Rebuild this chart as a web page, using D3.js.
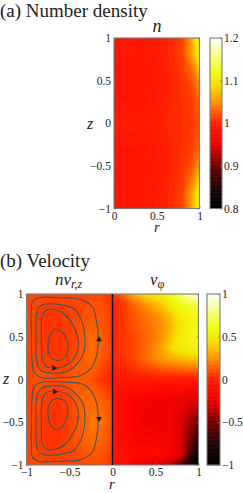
<!DOCTYPE html>
<html>
<head>
<meta charset="utf-8">
<script src="https://cdn.jsdelivr.net/npm/d3@7"></script>
<style>
  html, body { margin: 0; padding: 0; background: #fff; }
  svg { display: block; }
  text { font-family: "Liberation Serif", serif; fill: #222; }
</style>
</head>
<body>
<svg id="chart" width="243" height="493"></svg>
<script>
// number density, rows z = 1 .. -1 (step 0.2), columns r = 0 .. 1 (step 0.1)
const densityGrid = [
  [0.990, 0.990, 0.990, 0.990, 0.993, 0.997, 1.002, 1.008, 1.020, 1.060, 1.120],
  [0.990, 0.990, 0.990, 0.990, 0.993, 0.997, 1.002, 1.008, 1.018, 1.055, 1.115],
  [0.985, 0.985, 0.985, 0.985, 0.988, 0.995, 1.000, 1.006, 1.014, 1.032, 1.075],
  [0.985, 0.985, 0.985, 0.986, 0.990, 0.996, 1.000, 1.005, 1.010, 1.018, 1.045],
  [0.992, 0.990, 0.990, 0.990, 0.993, 0.998, 1.002, 1.005, 1.009, 1.014, 1.028],
  [1.000, 0.998, 0.994, 0.993, 0.995, 1.000, 1.005, 1.006, 1.008, 1.012, 1.022],
  [0.992, 0.990, 0.990, 0.990, 0.993, 0.998, 1.002, 1.005, 1.009, 1.014, 1.028],
  [0.985, 0.985, 0.985, 0.986, 0.990, 0.996, 1.000, 1.005, 1.010, 1.018, 1.045],
  [0.985, 0.985, 0.985, 0.985, 0.988, 0.995, 1.000, 1.006, 1.014, 1.032, 1.075],
  [0.990, 0.990, 0.990, 0.990, 0.993, 0.997, 1.002, 1.008, 1.018, 1.055, 1.115],
  [0.990, 0.990, 0.990, 0.990, 0.993, 0.997, 1.002, 1.008, 1.020, 1.060, 1.120],
];

// v_phi, rows z = 1 .. -1 (step 0.125), columns r = 0 .. 1 (step 0.1)
const vPhiGrid = [
  [0.05, 0.15, 0.28, 0.40, 0.46, 0.50, 0.55, 0.65, 0.80, 0.90, 0.95],
  [0.03, 0.05, 0.12, 0.20, 0.28, 0.35, 0.42, 0.55, 0.62, 0.66, 0.75],
  [0.03, 0.05, 0.10, 0.15, 0.20, 0.25, 0.32, 0.42, 0.52, 0.58, 0.62],
  [0.03, 0.05, 0.10, 0.14, 0.18, 0.22, 0.28, 0.38, 0.50, 0.56, 0.58],
  [0.03, 0.05, 0.08, 0.12, 0.17, 0.22, 0.30, 0.42, 0.52, 0.57, 0.60],
  [0.03, 0.05, 0.08, 0.12, 0.18, 0.25, 0.35, 0.47, 0.52, 0.55, 0.57],
  [0.02, 0.04, 0.08, 0.12, 0.18, 0.25, 0.30, 0.35, 0.38, 0.40, 0.42],
  [0.00, 0.02, 0.04, 0.07, 0.10, 0.12, 0.14, 0.15, 0.17, 0.18, 0.20],
  [-0.03, -0.03, -0.03, -0.03, -0.02, -0.02, -0.02, -0.02, -0.02, -0.02, -0.02],
  [-0.05, -0.07, -0.10, -0.10, -0.10, -0.12, -0.12, -0.13, -0.14, -0.15, -0.16],
  [-0.06, -0.10, -0.14, -0.17, -0.18, -0.19, -0.19, -0.20, -0.22, -0.25, -0.28],
  [-0.05, -0.10, -0.15, -0.18, -0.20, -0.20, -0.20, -0.21, -0.25, -0.33, -0.40],
  [-0.05, -0.10, -0.15, -0.18, -0.20, -0.20, -0.20, -0.21, -0.27, -0.40, -0.48],
  [-0.05, -0.10, -0.14, -0.16, -0.17, -0.18, -0.19, -0.20, -0.28, -0.45, -0.58],
  [-0.05, -0.10, -0.12, -0.15, -0.15, -0.15, -0.16, -0.19, -0.28, -0.50, -0.75],
  [-0.03, -0.07, -0.10, -0.12, -0.12, -0.13, -0.15, -0.18, -0.28, -0.60, -0.90],
  [-0.10, -0.12, -0.15, -0.18, -0.22, -0.25, -0.30, -0.38, -0.55, -0.80, -0.98],
];

// n v_rz magnitude, rows z = 1 .. -1 (step 0.25), columns r = -1 .. 0 (step 0.125)
const flowGrid = [
  [0.10, 0.10, 0.10, 0.10, 0.10, 0.10, 0.10, 0.10, 0.05],
  [0.10, 0.08, 0.05, 0.06, 0.08, 0.10, 0.12, 0.12, 0.07],
  [0.10, 0.08, 0.05, 0.04, 0.07, 0.12, 0.18, 0.15, 0.07],
  [0.10, 0.10, 0.07, 0.06, 0.08, 0.13, 0.18, 0.14, 0.07],
  [0.10, 0.11, 0.11, 0.10, 0.12, 0.14, 0.12, 0.05, 0.02],
  [0.10, 0.10, 0.07, 0.06, 0.09, 0.15, 0.18, 0.15, 0.09],
  [0.10, 0.08, 0.05, 0.04, 0.08, 0.14, 0.20, 0.20, 0.10],
  [0.10, 0.08, 0.05, 0.06, 0.09, 0.13, 0.17, 0.15, 0.08],
  [0.10, 0.10, 0.10, 0.10, 0.10, 0.10, 0.10, 0.10, 0.06],
];

// streamlines as [r, z]
const upperLoops = [
  [[-0.944, 0.789], [-0.932, 0.906], [-0.855, 0.957], [-0.641, 0.957], [-0.370, 0.937], [-0.234, 0.848], [-0.184, 0.672], [-0.165, 0.477], [-0.184, 0.282], [-0.254, 0.126], [-0.370, 0.048], [-0.603, 0.021], [-0.816, 0.021], [-0.913, 0.087], [-0.936, 0.243], [-0.944, 0.516]],
  [[-0.886, 0.750], [-0.866, 0.836], [-0.796, 0.879], [-0.603, 0.875], [-0.448, 0.828], [-0.362, 0.692], [-0.320, 0.477], [-0.339, 0.302], [-0.409, 0.185], [-0.545, 0.087], [-0.719, 0.076], [-0.835, 0.107], [-0.882, 0.224], [-0.890, 0.516]],
  [[-0.827, 0.594], [-0.816, 0.750], [-0.750, 0.820], [-0.641, 0.809], [-0.525, 0.731], [-0.440, 0.594], [-0.397, 0.438], [-0.428, 0.282], [-0.525, 0.173], [-0.680, 0.134], [-0.777, 0.157], [-0.816, 0.243], [-0.827, 0.419]],
  [[-0.750, 0.419], [-0.727, 0.516], [-0.661, 0.586], [-0.583, 0.555], [-0.533, 0.458], [-0.517, 0.360], [-0.545, 0.263], [-0.622, 0.224], [-0.700, 0.243], [-0.746, 0.321]],
];
const lowerLoops = [
  [[-0.944, -0.789], [-0.932, -0.906], [-0.855, -0.957], [-0.641, -0.957], [-0.370, -0.937], [-0.234, -0.848], [-0.184, -0.672], [-0.165, -0.477], [-0.184, -0.282], [-0.254, -0.126], [-0.370, -0.048], [-0.603, -0.030], [-0.816, -0.030], [-0.913, -0.087], [-0.936, -0.243], [-0.944, -0.516]],
  [[-0.886, -0.750], [-0.866, -0.836], [-0.796, -0.879], [-0.603, -0.875], [-0.448, -0.828], [-0.362, -0.692], [-0.320, -0.477], [-0.339, -0.302], [-0.409, -0.185], [-0.545, -0.087], [-0.719, -0.076], [-0.835, -0.107], [-0.882, -0.224], [-0.890, -0.516]],
  [[-0.827, -0.594], [-0.816, -0.750], [-0.750, -0.820], [-0.641, -0.809], [-0.525, -0.731], [-0.440, -0.594], [-0.397, -0.438], [-0.428, -0.282], [-0.525, -0.173], [-0.680, -0.134], [-0.777, -0.157], [-0.816, -0.243], [-0.827, -0.419]],
  [[-0.750, -0.419], [-0.727, -0.516], [-0.661, -0.586], [-0.583, -0.555], [-0.533, -0.458], [-0.517, -0.360], [-0.545, -0.263], [-0.622, -0.224], [-0.700, -0.243], [-0.746, -0.321]],
];
// arrow heads: r, z, heading in degrees (0 = pointing right, clockwise on screen)
const arrowR = [-0.157, -0.680, -0.672, -0.157];
const arrowZ = [0.466, 0.134, -0.142, -0.458];
const arrowAngle = [-90, 0, 0, 90];

const densityTicksZ = [-1, -0.5, 0, 0.5, 1];
const densityTicksR = [0, 0.5, 1];
const densityBarTicks = [0.8, 0.9, 1, 1.1, 1.2];
const velocityTicksR = [-1, -0.5, 0, 0.5, 1];
const velocityBarTicks = [-1, -0.5, 0, 0.5, 1];

// hot-like colormap, black through red and yellow to white
const colorStops = [0, 0.12, 0.25, 0.36, 0.43, 0.5, 0.62, 0.72, 0.8, 0.88, 1];
const colorValues = ["#000000", "#1e0808", "#700000", "#e00000", "#ff0800", "#ff2000", "#ff8c00", "#f8dc00", "#eeff10", "#f8ff70", "#ffffff"];
const cmap = d3.scaleLinear().domain(colorStops).range(colorValues).clamp(true);

const svg = d3.select("#chart");
const minus = (d) => String(d).replace("-", "\u2212");
const FRAME = "#7a7a7a";

function heatmap(grid, rDomain, zDomain, box, vMin, vMax, id) {
  const rows = grid.length, cols = grid[0].length;
  const x = d3.scaleLinear().domain(rDomain).range([box.x0, box.x1]);
  const y = d3.scaleLinear().domain(zDomain).range([box.y0, box.y1]);
  // contour coords: grid value i sits at i + 0.5
  const gx = d3.scaleLinear().domain([0.5, cols - 0.5]).range([box.x0, box.x1]);
  const gy = d3.scaleLinear().domain([0.5, rows - 0.5]).range([box.y0, box.y1]);
  const thresholds = d3.range(0, 96).map((i) => vMin + ((vMax - vMin) * i) / 96);
  const contours = d3.contours().size([cols, rows]).smooth(true).thresholds(thresholds)(grid.flat());
  const path = d3.geoPath(d3.geoTransform({
    point(px, py) { this.stream.point(gx(px), gy(py)); },
  }));
  svg.append("clipPath").attr("id", id).append("rect")
    .attr("x", box.x0).attr("y", box.y0)
    .attr("width", box.x1 - box.x0).attr("height", box.y1 - box.y0);
  svg.append("g").attr("clip-path", `url(#${id})`)
    .selectAll("path").data(contours).join("path")
    .attr("d", path)
    .attr("fill", (d) => cmap((d.value - vMin) / (vMax - vMin)))
    .attr("stroke", (d) => cmap((d.value - vMin) / (vMax - vMin)))
    .attr("stroke-width", 0.3);
  return { x, y };
}

function styleAxis(g) {
  g.select(".domain").remove();
  g.selectAll("line").attr("stroke", FRAME).attr("stroke-width", 0.8);
  g.selectAll("text").attr("font-size", 11.5).attr("fill", "#222")
    .attr("font-family", '"Liberation Serif", serif');
}

function frame(b) {
  svg.append("rect").attr("x", b.x0).attr("y", b.y0)
    .attr("width", b.x1 - b.x0).attr("height", b.y1 - b.y0)
    .attr("fill", "none").attr("stroke", FRAME).attr("stroke-width", 1.1);
}

function colorbar(b, domain, ticks, labelGap) {
  const levels = d3.range(0, 128);
  const band = d3.scaleBand().domain(levels).range([b.y1, b.y0]);
  svg.append("g").selectAll("rect").data(levels).join("rect")
    .attr("x", b.x0).attr("width", b.x1 - b.x0)
    .attr("y", (d) => band(d) - 0.3).attr("height", band.bandwidth() + 0.6)
    .attr("fill", (d) => cmap((d + 0.5) / 128));
  const y = d3.scaleLinear().domain(domain).range([b.y1, b.y0]);
  svg.append("g").attr("transform", `translate(${b.x1},0)`)
    .call(d3.axisRight(y).tickValues(ticks).tickSize(-2).tickPadding(labelGap).tickFormat(minus))
    .call(styleAxis);
  frame(b);
}

function label(x, y, str, size, anchor, italic) {
  return svg.append("text").attr("x", x).attr("y", y).text(str)
    .attr("font-size", size).attr("text-anchor", anchor || "middle")
    .attr("font-style", italic ? "italic" : "normal");
}

// (a) number density
const boxA = { x0: 114, x1: 199.5, y0: 38, y1: 208.5 };
const a = heatmap(densityGrid, [0, 1], [1, -1], boxA, 0.8, 1.2, "clipA");
svg.append("g").attr("transform", `translate(${boxA.x0},0)`)
  .call(d3.axisLeft(a.y).tickValues(densityTicksZ).tickSize(-2).tickPadding(3).tickFormat(minus))
  .call(styleAxis);
svg.append("g").attr("transform", `translate(${boxA.x1},0)`)
  .call(d3.axisRight(a.y).tickValues(densityTicksZ).tickSize(-2).tickFormat(""))
  .call(styleAxis);
svg.append("g").attr("transform", `translate(0,${boxA.y1})`)
  .call(d3.axisBottom(a.x).tickValues(densityTicksR).tickSize(-2).tickPadding(3).tickFormat(minus))
  .call(styleAxis);
frame(boxA);
colorbar({ x0: 210, x1: 222, y0: 38, y1: 208.5 }, [0.8, 1.2], densityBarTicks, 2);

label(0, 17, "(a) Number density", 19, "start");
label(157, 32, "n", 18, "middle", true);
label(90, 129, "z", 16, "middle", true);
label(157, 232, "r", 15, "middle", true);

// (b) velocity
const boxL = { x0: 26.5, x1: 112.5, y0: 294, y1: 465 };
const boxR = { x0: 112.5, x1: 198.5, y0: 294, y1: 465 };
const bL = heatmap(flowGrid, [-1, 0], [1, -1], boxL, -1, 1, "clipL");
heatmap(vPhiGrid, [0, 1], [1, -1], boxR, -1, 1, "clipR");

const boxB = { x0: boxL.x0, x1: boxR.x1, y0: boxL.y0, y1: boxL.y1 };
const xB = d3.scaleLinear().domain([-1, 1]).range([boxB.x0, boxB.x1]);

const line = d3.line().x((d) => bL.x(d[0])).y((d) => bL.y(d[1])).curve(d3.curveCatmullRomClosed.alpha(0.5));
svg.append("g").selectAll("path").data(upperLoops.concat(lowerLoops)).join("path")
  .attr("d", line).attr("fill", "none").attr("stroke", "#465458").attr("stroke-width", 1.1);

const arrowHead = d3.symbol().type(d3.symbolTriangle).size(14);
svg.append("g").selectAll("path").data(arrowR).join("path")
  .attr("d", arrowHead)
  .attr("fill", "#1a1a1a")
  .attr("transform", (d, i) => `translate(${bL.x(d)},${bL.y(arrowZ[i])}) rotate(${arrowAngle[i] + 90})`);

svg.append("g").attr("transform", `translate(${boxB.x0},0)`)
  .call(d3.axisLeft(bL.y).tickValues(densityTicksZ).tickSize(-2).tickPadding(3).tickFormat(minus))
  .call(styleAxis);
svg.append("g").attr("transform", `translate(${boxB.x1},0)`)
  .call(d3.axisRight(bL.y).tickValues(densityTicksZ).tickSize(-2).tickFormat(""))
  .call(styleAxis);
svg.append("g").attr("transform", `translate(0,${boxB.y1})`)
  .call(d3.axisBottom(xB).tickValues(velocityTicksR).tickSize(-2).tickPadding(3).tickFormat(minus))
  .call(styleAxis);
frame(boxB);
svg.append("line").attr("x1", xB(0)).attr("x2", xB(0)).attr("y1", boxB.y0).attr("y2", boxB.y1)
  .attr("stroke", "#111").attr("stroke-width", 1.5);
colorbar({ x0: 207, x1: 220, y0: 294, y1: 465 }, [-1, 1], velocityBarTicks, 2);

label(0, 266.5, "(b) Velocity", 19, "start");
const nv = label(55, 285, "", 17, "start", true);
nv.append("tspan").text("nv");
nv.append("tspan").text("r,z").attr("font-size", 12).attr("dy", 3);
const vp = label(150, 285, "", 17, "start", true);
vp.append("tspan").text("v");
vp.append("tspan").text("\u03c6").attr("font-size", 12).attr("dy", 3).attr("font-style", "normal").attr("fill", "#222");
label(6, 384, "z", 16, "middle", true);
label(112, 489, "r", 15, "middle", true);
</script>
</body>
</html>
